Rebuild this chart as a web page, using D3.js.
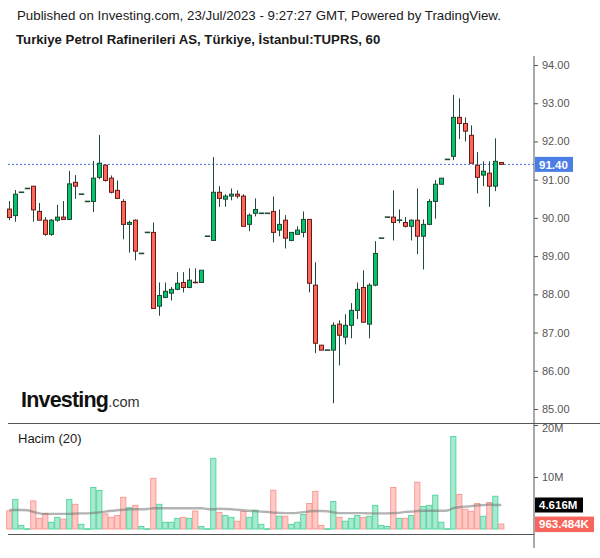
<!DOCTYPE html>
<html><head><meta charset="utf-8">
<script src="https://cdn.jsdelivr.net/npm/d3@7/dist/d3.min.js"></script>
<style>body{margin:0;background:#fff;}svg{display:block;font-family:"Liberation Sans",Arial,sans-serif;}</style>
</head><body><svg id="c" width="600" height="558"></svg>
<script>
const opens  = [90.23,90.06,90.67,90.77,90.83,90.17,89.94,89.57,89.94,90.02,89.96,90.93,90.62,90.43,90.43,91.06,91.38,91.04,90.72,90.43,89.83,89.94,89.07,89.62,89.62,87.69,87.92,88.03,88.13,88.31,88.18,88.31,88.31,89.52,89.41,90.67,90.49,90.57,90.62,90.57,89.83,90.12,90.12,90.12,90.17,89.68,89.94,89.41,89.57,89.62,89.96,88.24,86.67,86.54,86.54,87.22,86.88,87.19,87.58,88.18,87.22,88.24,89.47,90.02,90.02,89.94,89.88,89.78,89.94,89.52,89.83,90.43,90.88,91.53,91.61,92.63,92.47,92.16,91.38,91.12,91.17,90.83,91.45];
const highs  = [90.44,90.73,90.67,90.77,90.83,90.39,90.02,89.97,90.34,90.44,91.23,91.12,90.62,90.43,91.49,92.17,91.38,91.11,90.98,90.49,89.93,89.96,89.07,89.62,89.88,88.31,88.31,88.19,88.58,88.58,88.68,88.68,88.63,89.52,91.59,90.83,90.62,90.77,90.72,90.62,90.12,90.51,90.12,90.12,90.56,90.22,90.07,89.62,89.78,90.17,89.96,88.84,86.67,86.54,87.27,87.32,87.48,87.77,88.31,88.63,88.29,89.39,89.47,90.02,90.72,90.22,90.02,89.96,90.77,89.96,90.49,90.99,91.04,91.53,93.22,93.13,92.63,92.42,91.72,91.48,91.48,92.08,91.45];
const lows   = [89.94,89.90,90.67,90.77,89.90,89.94,89.53,89.53,89.90,89.96,89.96,90.50,90.62,90.43,90.15,91.01,90.95,90.64,90.49,89.44,89.09,88.89,89.07,89.62,87.63,87.44,87.90,87.84,88.11,88.05,88.16,88.29,88.31,89.52,89.41,90.29,90.29,90.46,90.51,89.78,89.65,90.04,90.12,90.12,89.36,89.52,89.20,89.39,89.57,89.49,88.05,86.46,86.54,86.54,85.15,86.14,86.69,86.85,87.35,87.27,86.85,88.21,89.47,90.02,89.41,89.86,89.75,89.41,89.05,88.65,89.81,89.98,90.88,91.53,91.51,92.06,92.00,91.43,90.64,90.83,90.29,90.70,91.40];
const closes = [90.01,90.62,90.67,90.77,90.21,89.94,89.57,89.94,90.02,89.96,90.89,90.83,90.62,90.43,91.04,91.43,90.98,90.67,90.51,89.83,89.88,89.13,89.07,89.62,87.63,87.97,88.08,88.13,88.29,88.18,88.37,88.29,88.63,89.52,90.67,90.51,90.57,90.62,90.57,89.78,90.07,90.22,90.12,90.12,89.62,89.83,89.47,89.62,89.68,89.96,88.29,86.72,86.54,86.54,87.19,86.93,87.19,87.58,88.13,87.27,88.24,89.07,89.47,90.02,89.88,89.94,89.78,89.94,89.52,89.83,90.43,90.88,91.04,91.53,92.63,92.47,92.27,91.43,91.06,91.22,90.83,91.48,91.40];
const volumes = [3.5,5.7,0.7,0.05,5.4,2.05,3.0,1.3,2.25,1.9,5.7,4.75,0.9,0.05,8.0,7.4,2.9,2.25,2.6,6.1,4.1,4.55,0.5,0.05,9.75,4.75,1.3,1.3,2.05,2.25,2.05,3.45,0.5,0.05,13.6,3.2,2.6,2.25,1.5,3.4,2.25,3.6,0.9,0.05,7.45,2.45,2.45,0.9,1.3,2.8,4.9,7.25,0.7,0.05,5.3,2.25,1.5,2.05,2.6,2.25,2.45,4.55,0.7,0.5,8.0,2.05,2.05,2.6,9.0,4.35,4.55,6.5,1.3,0.05,17.8,6.65,3.8,3.4,4.9,2.45,5.1,6.3,0.963];
const volumeMA = [3.65,3.65,3.65,3.6,3.3,3.0,2.9,2.9,2.9,2.9,2.9,2.95,3.0,3.0,3.1,3.2,3.35,3.5,3.6,3.7,3.8,3.8,3.8,3.85,4.0,4.0,4.0,4.0,4.0,4.0,4.0,4.0,4.0,3.85,3.8,3.9,3.85,3.8,3.7,3.6,3.5,3.45,3.35,3.3,3.15,3.1,3.05,3.05,3.1,3.25,3.4,3.45,3.45,3.4,3.2,3.05,3.05,3.05,3.05,3.05,3.0,3.0,3.0,3.0,3.05,3.1,3.3,3.35,3.45,3.5,3.5,3.5,3.5,3.55,4.0,4.2,4.3,4.4,4.55,4.6,4.7,4.616,4.616];
const priceTicks = [85,86,87,88,89,90,91,92,93,94];
const volTickLabels = ["20M","10M"];
const volTickValues = [20,10];
const dayLabels = ["13","17","19","21","24"];
const dayIndex = [13,33,53,73,87.8];
const lastPrice = 91.40, lastPriceLabel = "91.40";
const lastVolLabel = "963.484K", maLabel = "4.616M";

const svg = d3.select("#c");
const x = d3.scaleLinear().domain([0,82]).range([9.3,501.3]);
const y = d3.scaleLinear().domain([85,94]).range([409,65]);
const yv = d3.scaleLinear().domain([0,20]).range([529,425]);
const axisX = 534;

// header
svg.append("text").attr("x",17).attr("y",20).attr("font-size",13.3).attr("fill","#1a1a1a")
  .text("Published on Investing.com, 23/Jul/2023 - 9:27:27 GMT, Powered by TradingView.");
svg.append("text").attr("x",16).attr("y",44).attr("font-size",13.2).attr("font-weight","bold").attr("fill","#1a1a1a")
  .text("Turkiye Petrol Rafinerileri AS, Türkiye, İstanbul:TUPRS, 60");

// logo
const logo = svg.append("text").attr("x",21).attr("y",407).attr("fill","#111");
logo.append("tspan").attr("font-size",21.5).attr("font-weight","bold").attr("letter-spacing",-0.8).text("Investing");
logo.append("tspan").attr("font-size",14.5).attr("fill","#333").text(".com");

// price axis
const gY = svg.append("g").attr("transform",`translate(${axisX},0)`);
gY.call(d3.axisRight(y).tickValues(priceTicks).tickFormat(d3.format(".2f")).tickSize(4).tickPadding(4));
gY.select(".domain").remove();
gY.selectAll("text").attr("font-size",11).attr("fill","#555").attr("font-family","Liberation Sans, Arial");
gY.selectAll("line").attr("stroke","#555");

// volume axis
const gV = svg.append("g").attr("transform",`translate(${axisX},0)`);
gV.call(d3.axisRight(yv).tickValues(volTickValues).tickFormat((d,i)=>volTickLabels[i]).tickSize(4).tickPadding(4));
gV.select(".domain").remove();
gV.selectAll("text").attr("font-size",11).attr("fill","#555").attr("font-family","Liberation Sans, Arial");
gV.selectAll("line").attr("stroke","#555");
gV.selectAll("g.tick").filter(d=>d===20).select("text").attr("dy","0.55em");

// x axis
svg.append("clipPath").attr("id","xclip").append("rect").attr("x",0).attr("y",530).attr("width",537).attr("height",28);
const gX = svg.append("g").attr("transform","translate(0,534)").attr("clip-path","url(#xclip)");
gX.call(d3.axisBottom(x).tickValues(dayIndex).tickFormat((d,i)=>dayLabels[i]).tickSize(4).tickPadding(3));
gX.select(".domain").remove();
gX.selectAll("text").attr("font-size",11).attr("fill","#555").attr("font-family","Liberation Sans, Arial");
gX.selectAll("line").attr("stroke","#555");

// frame lines
svg.append("line").attr("x1",axisX).attr("x2",axisX).attr("y1",56).attr("y2",548).attr("stroke","#555").attr("stroke-width",1);
svg.append("line").attr("x1",8).attr("x2",600).attr("y1",423.5).attr("y2",423.5).attr("stroke","#555").attr("stroke-width",1);
svg.append("line").attr("x1",8).attr("x2",axisX).attr("y1",534.5).attr("y2",534.5).attr("stroke","#555").attr("stroke-width",1);

// volume bars
const vg = svg.append("g");
volumes.forEach((v,i)=>{
  const up = closes[i] >= opens[i];
  const h = Math.max(0.6, yv(0)-yv(v));
  vg.append("rect").attr("x",x(i)-2.6).attr("y",yv(v)).attr("width",5.2).attr("height",h)
    .attr("fill", up ? "#a7ead0" : "#ffc9c6").attr("stroke", up ? "#4fd39c" : "#f7958f").attr("stroke-width",0.9);
});
// volume MA
svg.append("path").datum(volumeMA)
  .attr("d", d3.line().x((d,i)=>x(i)).y(d=>yv(d)).curve(d3.curveMonotoneX))
  .attr("fill","none").attr("stroke","#777").attr("stroke-opacity",0.55).attr("stroke-width",2.4);

// last price line
svg.append("line").attr("x1",8).attr("x2",axisX).attr("y1",y(lastPrice)).attr("y2",y(lastPrice))
  .attr("stroke","#3d6fe0").attr("stroke-width",1).attr("stroke-dasharray","2,2");

// candles
const cg = svg.append("g");
opens.forEach((o,i)=>{
  const c = closes[i], h = highs[i], l = lows[i];
  const cx = Math.round(x(i)) + 0.5;
  const up = c >= o;
  const flat = Math.abs(y(o)-y(c)) < 1 && Math.abs(y(h)-y(l)) < 1;
  if (flat) {
    cg.append("line").attr("x1",cx-2.7).attr("x2",cx+2.7).attr("y1",y(c)).attr("y2",y(c))
      .attr("stroke","#1f4a34").attr("stroke-width",1.6);
    return;
  }
  cg.append("line").attr("x1",cx).attr("x2",cx).attr("y1",y(h)).attr("y2",y(l))
    .attr("stroke","#22493a").attr("stroke-width",1);
  const top = y(Math.max(o,c)), bot = y(Math.min(o,c));
  if (bot - top < 1) {
    cg.append("line").attr("x1",cx-2.7).attr("x2",cx+2.7).attr("y1",top).attr("y2",top)
      .attr("stroke", up ? "#1f4a34" : "#6a1a14").attr("stroke-width",1.6);
    return;
  }
  cg.append("rect").attr("x",cx-2).attr("y",top).attr("width",4).attr("height",Math.max(1,bot-top))
    .attr("fill", up ? "#05c46e" : "#fb675b").attr("stroke", up ? "#1d4a33" : "#6a1a14").attr("stroke-width",1);
});

// labels on axis
function tag(yc, h, w, fill, txt){
  svg.append("rect").attr("x",axisX+1).attr("y",yc-h/2).attr("width",w).attr("height",h).attr("fill",fill);
  svg.append("text").attr("x",axisX+5).attr("y",yc).attr("dy","0.36em").attr("font-size",11.5)
    .attr("font-weight","bold").attr("fill","#fff").text(txt);
}
tag(y(lastPrice), 15, 38, "#4a7ee6", lastPriceLabel);
tag(505, 15, 48, "#000", maLabel);
tag(524.3, 15.5, 59, "#f7665c", lastVolLabel);

svg.append("text").attr("x",18).attr("y",443).attr("font-size",13).attr("fill","#1a1a1a").text("Hacim (20)");
</script></body></html>
